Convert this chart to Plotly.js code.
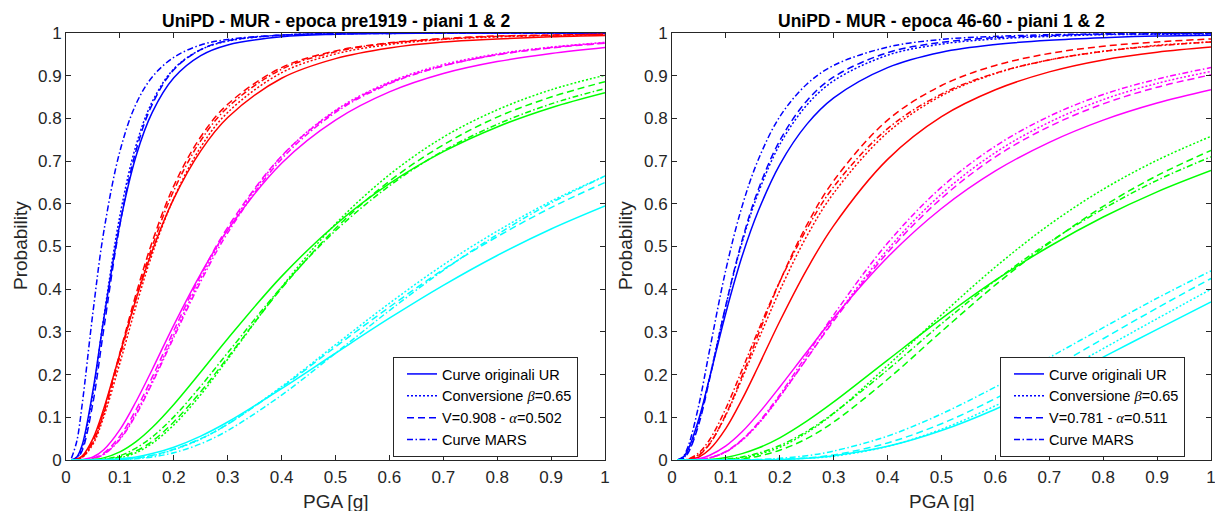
<!DOCTYPE html>
<html>
<head>
<meta charset="utf-8">
<script src="https://cdn.plot.ly/plotly-3.0.1.min.js"></script>
<style>html,body{margin:0;padding:0;background:#fff;}#chart{width:1215px;height:511px;}</style>
</head>
<body>
<div id="chart"></div>
<script>
// PGA sample points [g]
const pga = [0.01,0.02,0.03,0.05,0.07,0.1,0.13,0.16,0.2,0.25,0.3,0.4,0.5,0.6,0.7,0.8,0.9,1.0];

// Titles and labels
const titleLeft = "UniPD - MUR - epoca pre1919 - piani 1 & 2";
const titleRight = "UniPD - MUR - epoca 46-60 - piani 1 & 2";
const xLabel = "PGA [g]";
const yLabel = "Probability";
const G = s => '<span style="font-family:\'Liberation Serif\',serif"><i>' + s + '</i></span>';
const legendLeft = ["Curve originali UR", "Conversione " + G("β") + "=0.65", "V=0.908 - " + G("α") + "=0.502", "Curve MARS"];
const legendRight = ["Curve originali UR", "Conversione " + G("β") + "=0.65", "V=0.781 - " + G("α") + "=0.511", "Curve MARS"];

// ---- Left panel (epoca pre1919) ----
const L_blue_orig = [0.000,0.007,0.035,0.163,0.330,0.553,0.712,0.814,0.895,0.947,0.972,0.991,0.997,0.999,1.000,1.000,1.000,1.000];
const L_blue_conv = [0.000,0.005,0.029,0.155,0.333,0.572,0.737,0.839,0.916,0.961,0.981,0.995,0.998,1.000,1.000,1.000,1.000,1.000];
const L_blue_va   = [0.000,0.003,0.022,0.134,0.306,0.551,0.725,0.833,0.914,0.961,0.982,0.995,0.999,1.000,1.000,1.000,1.000,1.000];
const L_blue_mars = [0.004,0.044,0.130,0.346,0.534,0.723,0.834,0.897,0.943,0.972,0.985,0.995,0.998,0.999,1.000,1.000,1.000,1.000];

const L_red_orig = [0.000,0.002,0.009,0.050,0.120,0.249,0.377,0.490,0.612,0.724,0.802,0.894,0.940,0.965,0.979,0.986,0.991,0.994];
const L_red_conv = [0.000,0.001,0.006,0.037,0.101,0.227,0.361,0.482,0.613,0.733,0.814,0.907,0.951,0.973,0.985,0.991,0.994,0.996];
const L_red_va   = [0.000,0.001,0.007,0.044,0.114,0.251,0.389,0.511,0.642,0.757,0.833,0.919,0.958,0.977,0.987,0.993,0.995,0.997];
const L_red_mars = [0.000,0.001,0.006,0.041,0.109,0.242,0.379,0.500,0.631,0.748,0.826,0.915,0.956,0.976,0.986,0.992,0.995,0.997];

const L_mag_orig = [0.000,0.000,0.001,0.007,0.024,0.071,0.137,0.212,0.316,0.436,0.539,0.695,0.796,0.862,0.905,0.933,0.952,0.966];
const L_mag_conv = [0.000,0.000,0.000,0.003,0.014,0.050,0.110,0.184,0.293,0.425,0.539,0.711,0.819,0.885,0.926,0.951,0.967,0.978];
const L_mag_va   = [0.000,0.000,0.000,0.004,0.016,0.056,0.118,0.194,0.303,0.433,0.545,0.712,0.817,0.883,0.923,0.949,0.965,0.976];
const L_mag_mars = [0.000,0.000,0.000,0.003,0.013,0.048,0.106,0.180,0.287,0.418,0.532,0.705,0.814,0.881,0.923,0.949,0.966,0.977];

const L_green_orig = [0.000,0.000,0.000,0.001,0.005,0.019,0.043,0.076,0.130,0.206,0.284,0.430,0.551,0.647,0.722,0.780,0.825,0.860];
const L_green_conv = [0.000,0.000,0.000,0.000,0.001,0.005,0.017,0.039,0.082,0.153,0.236,0.405,0.553,0.668,0.756,0.820,0.867,0.901];
const L_green_va   = [0.000,0.000,0.000,0.000,0.001,0.007,0.021,0.044,0.089,0.160,0.240,0.402,0.542,0.653,0.738,0.803,0.850,0.886];
const L_green_mars = [0.000,0.000,0.000,0.000,0.002,0.010,0.028,0.054,0.101,0.173,0.251,0.405,0.537,0.642,0.724,0.786,0.834,0.870];

const L_cyan_orig = [0.000,0.000,0.000,0.000,0.001,0.003,0.007,0.015,0.030,0.056,0.089,0.167,0.250,0.332,0.409,0.479,0.541,0.595];
const L_cyan_conv = [0.000,0.000,0.000,0.000,0.000,0.001,0.004,0.010,0.024,0.049,0.084,0.172,0.270,0.367,0.457,0.536,0.606,0.665];
const L_cyan_va   = [0.000,0.000,0.000,0.000,0.000,0.001,0.005,0.011,0.025,0.050,0.084,0.170,0.265,0.358,0.446,0.523,0.591,0.650];
const L_cyan_mars = [0.000,0.000,0.000,0.000,0.000,0.001,0.003,0.007,0.017,0.038,0.069,0.152,0.250,0.350,0.444,0.528,0.602,0.665];

// ---- Right panel (epoca 46-60) ----
const R_blue_orig = [0.000,0.006,0.025,0.097,0.194,0.345,0.477,0.583,0.692,0.786,0.848,0.919,0.955,0.973,0.983,0.989,0.993,0.995];
const R_blue_conv = [0.000,0.004,0.019,0.090,0.195,0.362,0.509,0.625,0.739,0.831,0.888,0.948,0.974,0.986,0.992,0.996,0.997,0.998];
const R_blue_va   = [0.000,0.003,0.017,0.085,0.191,0.363,0.514,0.633,0.748,0.841,0.897,0.954,0.978,0.989,0.994,0.997,0.998,0.999];
const R_blue_mars = [0.000,0.007,0.032,0.130,0.259,0.446,0.594,0.703,0.804,0.880,0.924,0.967,0.985,0.992,0.996,0.998,0.999,0.999];

const R_red_orig = [0.000,0.000,0.001,0.007,0.025,0.074,0.142,0.219,0.325,0.446,0.549,0.704,0.804,0.867,0.909,0.937,0.955,0.967];
const R_red_conv = [0.000,0.000,0.002,0.013,0.039,0.105,0.191,0.281,0.397,0.524,0.625,0.767,0.853,0.905,0.937,0.957,0.971,0.979];
const R_red_va   = [0.000,0.000,0.001,0.011,0.038,0.107,0.197,0.294,0.418,0.550,0.654,0.796,0.877,0.924,0.952,0.969,0.979,0.986];
const R_red_mars = [0.000,0.000,0.002,0.017,0.048,0.121,0.211,0.303,0.418,0.541,0.640,0.776,0.857,0.906,0.937,0.957,0.970,0.979];

const R_mag_orig = [0.000,0.000,0.000,0.003,0.011,0.033,0.066,0.108,0.171,0.253,0.333,0.475,0.589,0.677,0.744,0.796,0.836,0.867];
const R_mag_conv = [0.000,0.000,0.000,0.001,0.005,0.019,0.046,0.084,0.148,0.238,0.329,0.493,0.623,0.720,0.791,0.844,0.882,0.910];
const R_mag_va   = [0.000,0.000,0.000,0.001,0.005,0.020,0.048,0.086,0.149,0.237,0.326,0.486,0.613,0.710,0.781,0.834,0.873,0.902];
const R_mag_mars = [0.000,0.000,0.000,0.001,0.005,0.019,0.047,0.087,0.153,0.246,0.340,0.508,0.639,0.735,0.805,0.856,0.892,0.919];

const R_green_orig = [0.000,0.000,0.000,0.000,0.001,0.006,0.015,0.028,0.052,0.091,0.136,0.234,0.331,0.421,0.500,0.569,0.628,0.678];
const R_green_conv = [0.000,0.000,0.000,0.000,0.000,0.001,0.005,0.013,0.030,0.064,0.109,0.221,0.340,0.452,0.551,0.634,0.702,0.758];
const R_green_va   = [0.000,0.000,0.000,0.000,0.000,0.001,0.003,0.009,0.023,0.050,0.089,0.189,0.301,0.410,0.508,0.594,0.666,0.725];
const R_green_mars = [0.000,0.000,0.000,0.000,0.000,0.002,0.007,0.016,0.034,0.067,0.110,0.211,0.319,0.420,0.510,0.588,0.655,0.710];

const R_cyan_orig = [0.000,0.000,0.000,0.000,0.000,0.000,0.000,0.000,0.001,0.004,0.010,0.032,0.069,0.119,0.178,0.241,0.306,0.370];
const R_cyan_conv = [0.000,0.000,0.000,0.000,0.000,0.000,0.000,0.000,0.001,0.004,0.009,0.032,0.072,0.127,0.191,0.261,0.331,0.400];
const R_cyan_va   = [0.000,0.000,0.000,0.000,0.000,0.000,0.000,0.001,0.002,0.005,0.012,0.040,0.085,0.144,0.212,0.284,0.356,0.425];
const R_cyan_mars = [0.000,0.000,0.000,0.000,0.000,0.000,0.000,0.001,0.004,0.010,0.021,0.056,0.108,0.171,0.240,0.310,0.379,0.443];

// ---- styling (not data) ----
const colorOf = {blue:'#0000ff', red:'#ff0000', mag:'#ff00ff', green:'#00ff00', cyan:'#00ffff'};
const dashes = ['solid', '2px,2px', '7px,4px', '6px,2.5px,1.5px,2.5px'];

const panels = [
  {xa:'x', ya:'y', legend:'legend', names:legendLeft, sets:{
    blue:[L_blue_orig,L_blue_conv,L_blue_va,L_blue_mars],
    red:[L_red_orig,L_red_conv,L_red_va,L_red_mars],
    mag:[L_mag_orig,L_mag_conv,L_mag_va,L_mag_mars],
    green:[L_green_orig,L_green_conv,L_green_va,L_green_mars],
    cyan:[L_cyan_orig,L_cyan_conv,L_cyan_va,L_cyan_mars]}},
  {xa:'x2', ya:'y2', legend:'legend2', names:legendRight, sets:{
    blue:[R_blue_orig,R_blue_conv,R_blue_va,R_blue_mars],
    red:[R_red_orig,R_red_conv,R_red_va,R_red_mars],
    mag:[R_mag_orig,R_mag_conv,R_mag_va,R_mag_mars],
    green:[R_green_orig,R_green_conv,R_green_va,R_green_mars],
    cyan:[R_cyan_orig,R_cyan_conv,R_cyan_va,R_cyan_mars]}}
];

const traces = [];
panels.forEach(p => {
  ['blue','red','mag','green','cyan'].forEach(c => {
    p.sets[c].forEach((arr, i) => {
      traces.push({
        type:'scatter', mode:'lines', x:pga, y:arr,
        xaxis:p.xa, yaxis:p.ya,
        line:{color:colorOf[c], width:1.5, dash:dashes[i], shape:'spline', smoothing:1.0},
        name:p.names[i], showlegend:(c==='blue'), legend:p.legend,
        hoverinfo:'skip'
      });
    });
  });
});

const W = 1215, H = 511;
const fontFam = '"Liberation Sans", Arial, Helvetica, sans-serif';
const axisCommon = {
  range:[0,1], tick0:0, dtick:0.1, ticks:'inside', ticklen:5, tickwidth:1, tickcolor:'#262626',
  showline:true, linecolor:'#262626', linewidth:1, mirror:'ticks', showgrid:false, zeroline:false,
  tickfont:{family:fontFam, size:17, color:'#262626'}, fixedrange:true, ticklabeloverflow:'allow'
};
const yTop = (H-33)/H, yBot = (H-460)/H;
const legendCommon = {xanchor:'left', yanchor:'top', bgcolor:'#ffffff', bordercolor:'#262626', borderwidth:1,
  font:{family:fontFam, size:14.5, color:'#000'}, tracegroupgap:0, indentation:8};
const layout = {
  width:W, height:H, margin:{l:0,r:0,t:0,b:0,pad:0},
  paper_bgcolor:'#ffffff', plot_bgcolor:'#ffffff', showlegend:true,
  xaxis: Object.assign({}, axisCommon, {domain:[66/W, 605/W], anchor:'y', ticklabelstandoff:2}),
  yaxis: Object.assign({}, axisCommon, {domain:[yBot, yTop], anchor:'x'}),
  xaxis2: Object.assign({}, axisCommon, {domain:[672/W, 1211/W], anchor:'y2', ticklabelstandoff:2}),
  yaxis2: Object.assign({}, axisCommon, {domain:[yBot, yTop], anchor:'x2'}),
  legend: Object.assign({}, legendCommon, {x:393/W, y:(H-357)/H}),
  legend2: Object.assign({}, legendCommon, {x:1000/W, y:(H-357)/H}),
  annotations:[
    {text:'<b>'+titleLeft+'</b>', xref:'paper', yref:'paper', x:(66+605)/2/W, y:(H-21)/H, xanchor:'center', yanchor:'middle', showarrow:false, font:{family:fontFam, size:17.5, color:'#000'}},
    {text:'<b>'+titleRight+'</b>', xref:'paper', yref:'paper', x:(672+1211)/2/W, y:(H-21)/H, xanchor:'center', yanchor:'middle', showarrow:false, font:{family:fontFam, size:17.5, color:'#000'}},
    {text:xLabel, xref:'paper', yref:'paper', x:(66+605)/2/W, y:(H-501)/H, xanchor:'center', yanchor:'middle', showarrow:false, font:{family:fontFam, size:19, color:'#262626'}},
    {text:xLabel, xref:'paper', yref:'paper', x:(672+1211)/2/W, y:(H-501)/H, xanchor:'center', yanchor:'middle', showarrow:false, font:{family:fontFam, size:19, color:'#262626'}},
    {text:yLabel, xref:'paper', yref:'paper', x:20/W, y:(H-246)/H, xanchor:'center', yanchor:'middle', textangle:-90, showarrow:false, font:{family:fontFam, size:19, color:'#262626'}},
    {text:yLabel, xref:'paper', yref:'paper', x:625/W, y:(H-246)/H, xanchor:'center', yanchor:'middle', textangle:-90, showarrow:false, font:{family:fontFam, size:19, color:'#262626'}}
  ]
};
Plotly.newPlot('chart', traces, layout, {displayModeBar:false, staticPlot:true});
</script>
</body>
</html>
